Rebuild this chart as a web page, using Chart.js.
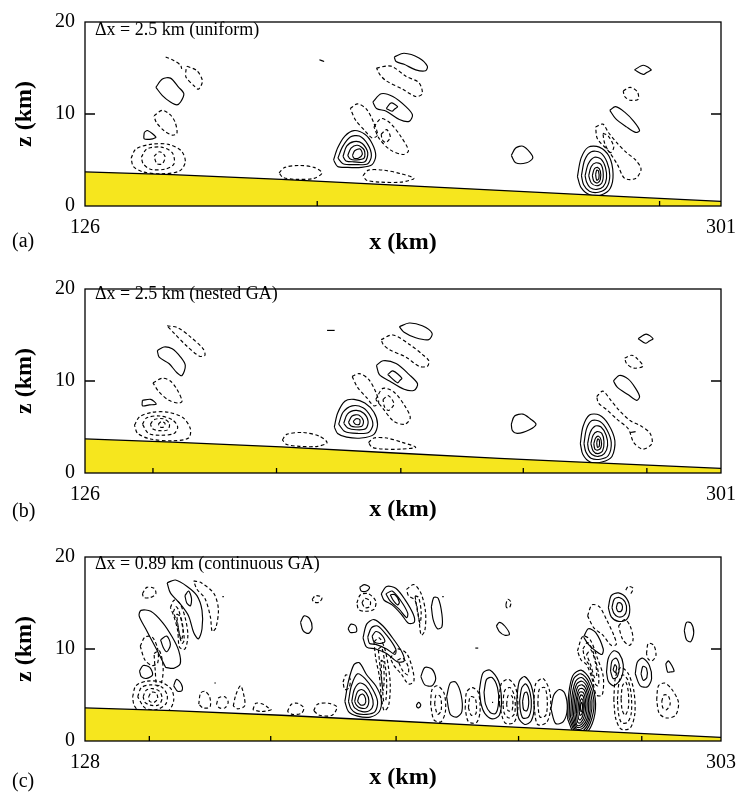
<!DOCTYPE html>
<html>
<head>
<meta charset="utf-8">
<script src="https://cdn.jsdelivr.net/npm/chart.js@4.4.1/dist/chart.umd.min.js"></script>
<style>
  body { margin: 0; background: #fff; width: 746px; height: 793px; overflow: hidden; position: relative; }
  canvas { position: absolute; left: 0; }
  .lab { position: absolute; font-family: 'Liberation Serif', 'Times New Roman', serif; color: #000; line-height: 1; white-space: nowrap; }
  .panel { font-size: 20px; left: 12px; }
  .note { font-size: 18px; left: 95px; }
</style>
</head>
<body>
<canvas id="ca" width="746" height="267" style="top:0px"></canvas>
<canvas id="cb" width="746" height="267" style="top:267px"></canvas>
<canvas id="cc" width="746" height="267" style="top:535px"></canvas>

<div class="lab panel" style="top:230px">(a)</div>
<div class="lab panel" style="top:500px">(b)</div>
<div class="lab panel" style="top:770px">(c)</div>
<div class="lab note" style="top:20px">Δx = 2.5 km (uniform)</div>
<div class="lab note" style="top:284px">Δx = 2.5 km (nested GA)</div>
<div class="lab note" style="top:554px">Δx = 0.89 km (continuous GA)</div>

<script>
// axis ranges and ticks
const zTicks = [0, 10, 20]
const innerZ = [10]
const xEndsA = [126, 301]
const xEndsB = [126, 301]
const xEndsC = [128, 303]
const innerXa = [189.9, 284.1]
const innerXb = [144.7, 178.7, 212.9, 246.6, 280.6]
const innerXc = [145.7, 179.1, 213.6, 247.3, 281.2]

// terrain profile (km)
const terrainXa = [126, 150, 180, 210, 240, 270, 301]
const terrainZa = [3.7, 3.4, 2.9, 2.3, 1.7, 1.1, 0.5]
const terrainXb = [126, 150, 180, 210, 240, 270, 301]
const terrainZb = [3.7, 3.35, 2.85, 2.2, 1.6, 1.05, 0.5]
const terrainXc = [128, 152, 182, 212, 242, 272, 303]
const terrainZc = [3.6, 3.3, 2.8, 2.2, 1.6, 1.0, 0.4]

// contours, [x km, z km]; solid = positive, dashed = negative
const aSolid = [
  [[145.5,12.9],[147.3,13.8],[149.5,13.9],[151.8,12.9],[153.2,12.2],[152.3,11.3],[151.3,11.0],[149.5,11.3],[147.3,12.0]],
  [[142.3,8.0],[143.2,8.2],[145.5,7.5],[144.6,7.3],[142.3,7.3]],
  [[190.5,15.9],[191.8,15.7]],
  [[194.4,5.0],[195.5,6.3],[197.5,7.6],[200,8.2],[203,7.8],[205,6.8],[206,5.5],[205,4.5],[202,4.2],[198,4.2],[195.5,4.3]],
  [[195.6,5.2],[196.8,6.4],[199,7.5],[201.5,7.6],[203.8,6.7],[204.8,5.5],[203.8,4.6],[200.5,4.5],[197,4.6]],
  [[197,5.4],[198,6.5],[200,7.0],[202.3,6.8],[203.8,5.8],[203,4.8],[200,4.8],[197.8,4.9]],
  [[198.3,5.5],[199.2,6.3],[201,6.6],[202.8,6.1],[202.8,5.2],[200.5,5.0],[199,5.1]],
  [[199.6,5.5],[200.2,6.0],[201.7,6.2],[202.3,5.6],[201.2,5.2],[200,5.2]],
  [[211.1,16.2],[213.8,16.6],[217.9,16.1],[220.2,15.2],[219.7,14.7],[217.0,14.8],[213.8,15.4],[211.6,15.7]],
  [[205.2,11.3],[207.5,12.2],[210.7,11.9],[214.3,10.8],[216.1,9.9],[215.2,9.2],[212.5,9.4],[208.9,10.3],[206.2,10.6]],
  [[208.9,10.6],[210.2,11.2],[212.0,10.8],[211.2,10.55],[210.5,10.3]],
  [[243.3,5.5],[244.5,6.3],[246.5,6.5],[248.5,5.8],[249.2,5.2],[247.5,4.7],[244.5,4.7]],
  [[277.2,14.8],[279.6,15.3],[281.8,14.8],[280.7,14.55],[279.6,14.3]],
  [[270.4,10.4],[272,10.8],[274.5,10.2],[277,9.2],[278.6,8.2],[277.5,8.0],[275,8.6],[272,9.5]],
  [[261.5,3.2],[262.5,5.2],[264.5,6.4],[267.5,6.4],[270.2,5.4],[271.3,3.5],[270.5,1.9],[268,1.2],[265,1.2],[262.5,2.0]],
  [[262.6,3.3],[263.5,5.0],[265.3,5.9],[267.8,5.8],[269.6,4.8],[270.4,3.3],[269.5,2.0],[267.3,1.5],[264.8,1.6],[263.2,2.3]],
  [[263.6,3.3],[264.5,4.6],[266.2,5.3],[268,5.1],[269.2,4.2],[269.5,3.0],[268.6,2.1],[266.8,1.8],[265,2.0],[264,2.6]],
  [[264.6,3.3],[265.3,4.3],[266.6,4.7],[268,4.5],[268.6,3.5],[268.2,2.5],[266.8,2.2],[265.3,2.5]],
  [[265.6,3.3],[266.1,4.0],[267,4.2],[267.8,3.8],[267.8,2.9],[267,2.5],[266,2.7]],
  [[266.5,3.4],[266.8,3.9],[267.3,3.8],[267.4,3.0],[266.8,2.8]]
]
const aDashed = [
  [[148.2,16.2],[150.5,15.8],[152.3,15.3],[152.6,14.9]],
  [[154.1,15.2],[156.8,14.7],[158.3,13.6],[157.2,12.7],[155.9,13.1],[153.8,14.0],[153.8,14.8]],
  [[145.0,9.8],[147.3,10.4],[149.5,9.9],[150.8,9.1],[151.3,7.9],[150.0,7.7],[147.7,8.2],[145.6,9.1]],
  [[138.7,5.2],[140,6.2],[144,6.7],[149,6.7],[152.5,6.0],[153.6,4.8],[152,3.8],[147,3.5],[142,3.7],[139.3,4.3]],
  [[141.5,5.3],[143,6.2],[147,6.4],[150,5.8],[150.5,4.6],[148,4.0],[144,4.0],[142,4.6]],
  [[145,5.4],[146.5,5.9],[148,5.4],[147.3,4.6],[145.8,4.6]],
  [[179.4,3.6],[181,4.2],[185,4.4],[189,4.2],[191.2,3.6],[189,3.0],[184,2.9],[180.5,3.1]],
  [[202.5,3.3],[204,3.9],[208,3.9],[213,3.5],[216.5,3.0],[213,2.6],[207,2.6],[203.5,2.8]],
  [[199,10.6],[201,11.1],[203.5,10.5],[205.5,9.0],[206.5,7.7],[205,7.4],[203,8.2],[200.5,9.3]],
  [[205.5,8.6],[207.5,9.5],[210,9.0],[213,7.5],[215,6.0],[213.5,5.6],[210,6.1],[207,7.3]],
  [[207.5,7.8],[209,8.3],[210,7.5],[208.8,6.9],[207.8,7.2]],
  [[206.2,15.0],[210.2,15.2],[214.3,14.1],[217.9,13.4],[218.8,12.2],[217.0,11.9],[213.4,12.7],[208.9,13.6],[207.1,14.3]],
  [[274.1,12.5],[276,12.9],[278,12.4],[278.2,11.6],[276,11.5],[274.5,11.9]],
  [[266.5,8.6],[268.5,8.9],[270,8.0],[272.5,6.8],[275,5.8],[277.5,5.0],[279,4.0],[277.5,3.0],[274.5,3.0],[272.5,4.5],[270,6.0],[267,7.3]],
  [[268.5,7.9],[270,7.6],[271.5,6.4],[270.5,5.8],[269,6.8]]
]

const bSolid = [
  [[145.9,13.3],[147.7,13.7],[150.0,13.5],[152.3,12.6],[153.6,11.7],[152.7,10.6],[151.3,10.9],[149.1,11.9],[146.4,12.6]],
  [[141.8,7.9],[144.1,8.0],[145.6,7.5],[143.7,7.4],[141.8,7.3]],
  [[192.6,15.5],[194.7,15.5]],
  [[194.6,5.0],[195.5,6.5],[197.5,7.8],[200,8.0],[203,7.6],[205.5,6.6],[206.5,5.3],[205.5,4.2],[202,3.8],[198,3.9],[195.5,4.3]],
  [[195.8,5.3],[197,6.6],[199.5,7.3],[202.5,7.1],[204.5,6.2],[205.2,5.2],[204,4.4],[201,4.3],[197.5,4.5]],
  [[197.2,5.4],[198.2,6.4],[200.5,6.8],[202.7,6.5],[203.9,5.6],[203.2,4.8],[200.6,4.7],[198.3,4.9]],
  [[198.5,5.5],[199.5,6.2],[201.3,6.3],[202.6,5.7],[202.2,5.1],[200.4,5.0],[199.2,5.1]],
  [[199.8,5.6],[200.6,5.9],[201.6,5.8],[201.5,5.3],[200.4,5.3]],
  [[212.5,15.9],[215.2,16.3],[218.8,16.0],[221.5,15.2],[220.6,14.5],[217.0,14.7],[213.8,15.3]],
  [[206.2,11.7],[208.0,12.2],[211.6,11.9],[215.2,10.7],[217.5,9.7],[216.6,9.0],[213.8,9.1],[209.8,10.0],[207.0,10.7]],
  [[209.3,10.7],[210.7,11.1],[213.2,10.3],[212.6,10.05],[212.0,9.8]],
  [[243.3,5.3],[244.2,6.2],[246.5,6.4],[248.5,5.9],[250.1,5.3],[248.3,4.7],[245.0,4.3],[243.6,4.6]],
  [[278.2,14.6],[280.4,15.1],[282.3,14.6],[281.3,14.35],[280.2,14.1]],
  [[271.4,10.0],[273.0,10.6],[275.5,10.2],[277.5,9.2],[278.6,8.3],[277.8,7.9],[275.5,8.5],[272.5,9.3]],
  [[276,4.4],[277.5,4.5]],
  [[262.3,3.2],[263,5.0],[264.8,6.3],[267.5,6.3],[270,5.3],[271.8,3.5],[271,1.8],[268.2,1.2],[265,1.2],[263,2.0]],
  [[263.3,3.2],[264,4.8],[265.5,5.7],[267.7,5.6],[269.6,4.7],[270.8,3.3],[270,1.9],[267.8,1.5],[265.2,1.6],[263.8,2.3]],
  [[264.3,3.2],[265,4.4],[266.4,5.1],[268,5.0],[269.4,4.1],[269.8,3.0],[268.9,2.1],[267.2,1.8],[265.5,2.0],[264.6,2.5]],
  [[265.2,3.2],[265.8,4.1],[266.9,4.5],[268.2,4.3],[268.8,3.4],[268.4,2.4],[267.1,2.1],[265.8,2.4]],
  [[266,3.2],[266.5,3.8],[267.3,4.0],[268,3.6],[268,2.8],[267.2,2.5],[266.3,2.6]],
  [[266.8,3.3],[267.1,3.7],[267.5,3.6],[267.5,2.9],[267,2.8]]
]
const bDashed = [
  [[148.6,16.0],[151.5,15.8],[155,14.8],[158.5,13.5],[159,12.8],[157.5,12.7],[154,13.8],[150.5,15.2]],
  [[144.7,9.8],[147.3,10.3],[149.5,10.0],[151.3,9.1],[152.7,7.8],[151.8,7.6],[149.1,7.9],[146.4,8.8]],
  [[139.6,5.2],[141,6.1],[144.5,6.6],[149,6.6],[153,6.0],[155,4.8],[154.5,3.8],[150,3.5],[144,3.7],[140.5,4.3]],
  [[141.8,5.3],[143,6.0],[146.5,6.2],[150,5.8],[151.5,5.0],[150.5,4.3],[147,4.1],[143.5,4.3]],
  [[144,5.3],[145,5.8],[147.5,5.9],[149.2,5.4],[148.8,4.7],[146.5,4.6],[144.6,4.8]],
  [[146.2,5.3],[147,5.6],[148,5.4],[147.6,5.0],[146.6,5.0]],
  [[180.3,3.6],[181.5,4.2],[186,4.4],[190.5,4.0],[192.6,3.3],[190,2.9],[185,2.9],[181.5,3.1]],
  [[199.5,10.5],[201.5,10.8],[204,10.2],[206,8.8],[206.8,7.6],[205.5,7.3],[203.5,8.2],[201,9.3]],
  [[206,8.0],[208,9.2],[211,8.8],[214,7.3],[215.5,6.0],[214,5.3],[211,5.6],[208,7.0]],
  [[208,8.0],[209.5,8.4],[211,7.5],[209.5,6.8],[208.4,7.2]],
  [[204,3.3],[205.5,3.8],[209,3.8],[213.5,3.3],[217,2.8],[213,2.6],[208,2.6],[205,2.8]],
  [[207.5,14.5],[210.7,15.0],[215.2,14.0],[218.8,12.9],[220.6,12.2],[220.2,11.6],[217.9,11.6],[214.3,12.6],[209.8,13.4],[208.0,14.0]],
  [[274.5,12.5],[276.5,12.8],[278,12.4],[279.5,11.6],[277,11.4],[275,11.9]],
  [[266.8,8.3],[268.5,8.9],[270.5,8.0],[273,6.8],[276,5.7],[279,5.1],[281.5,4.3],[282,3.2],[279.5,2.6],[277,3.3],[275.5,4.8],[272.5,5.8],[269.5,6.9],[267.3,7.6]]
]

const cSolid = [
  [[150.2,8.0],[147.5,10.1],[144.7,12.2],[142.9,13.6],[143.4,14.2],[146.1,14.1],[149.3,12.9],[152.0,11.3],[153.8,9.8],[154.2,8.4],[152.4,7.9]],
  [[148.8,11.0],[150.5,11.4],[151.5,10.5],[150.5,9.7],[149.5,10.2]],
  [[150.6,17.2],[152.9,17.5],[156.1,16.8],[158.8,15.8],[160.2,14.2],[160.2,12.2],[159.2,11.1],[157.9,11.8],[156.5,13.6],[154.2,14.9],[151.5,16.1]],
  [[155.5,15.8],[156.5,16.3],[157.3,15.5],[157.0,14.7],[156.0,15.0]],
  [[165.8,15.7],[166.2,15.7]],
  [[143,7.6],[144,8.2],[145.8,8.0],[146.6,7.2],[145,6.8],[143.5,7.0]],
  [[152.4,6.0],[153.2,6.7],[154.5,6.2],[154.7,5.5],[153.5,5.4]],
  [[163.6,6.3],[164.0,6.3]],
  [[187.3,12.9],[188.3,13.6],[189.8,13.3],[190.5,12.3],[189.5,11.7],[188.0,12.0]],
  [[200.4,12.2],[201.2,12.7],[202.5,12.5],[202.7,11.9],[201.0,11.8]],
  [[203.6,16.7],[204.8,17.0],[206.3,16.7],[205.5,16.3],[204.0,16.3]],
  [[199.5,4.3],[200.5,6.5],[202,8.3],[203.5,8.5],[205.5,7.2],[208,6.0],[209.5,4.6],[209,3.2],[206.5,2.6],[203,2.7],[200.5,3.2]],
  [[200.5,4.3],[201.3,6.0],[203,7.3],[205,6.8],[207.2,5.6],[208.5,4.3],[207.8,3.2],[205.5,2.9],[202.7,3.0],[201.2,3.5]],
  [[201.4,4.3],[202.1,5.6],[203.6,6.3],[205.3,6.0],[206.8,5.0],[207.3,4.0],[206.3,3.3],[204.3,3.2],[202.2,3.6]],
  [[202.2,4.3],[202.9,5.3],[204.1,5.6],[205.4,5.2],[206.1,4.4],[205.4,3.6],[203.7,3.6],[202.7,3.9]],
  [[203,4.3],[203.5,4.9],[204.4,5.1],[205.2,4.6],[205,4.0],[203.9,3.9]],
  [[209.5,16.0],[211,16.8],[213.5,16.6],[216,15.4],[218.3,13.8],[218.6,12.9],[217,12.8],[215,13.8],[212.5,14.8],[210.3,15.3]],
  [[210.8,16.0],[212.5,16.3],[214.8,15.3],[216.8,13.9],[216.5,13.4],[214.5,14.3],[212,15.2]],
  [[212,15.9],[213.3,15.9],[214.5,15.1],[214,14.8],[212.8,15.3]],
  [[223.3,14.6],[224,15.6],[225.2,15.5],[226.2,13.8],[226.2,12.4],[225,12.2],[223.8,13.2]],
  [[226.3,15.7],[226.7,15.7]],
  [[204.5,11.2],[205.5,12.7],[207.5,13.2],[210,12.5],[213,11.0],[215.3,9.6],[215.8,8.7],[214,8.6],[211,9.5],[208,10.0],[205.5,10.2]],
  [[205.8,11.3],[206.8,12.3],[208.5,12.5],[211,11.5],[213.5,10.0],[213.3,9.4],[211,10.0],[208,10.5],[206.3,10.6]],
  [[207,11.4],[208,11.9],[209.5,11.6],[210.5,10.8],[209,10.6],[207.5,10.8]],
  [[220.4,7.0],[221.5,8.0],[223.5,7.8],[224.5,6.8],[223.5,6.0],[221.5,6.1]],
  [[219.2,3.9],[219.8,4.2],[220.4,3.9],[219.8,3.6],[219.3,3.7]],
  [[227.5,4.8],[228.5,6.3],[230,6.4],[231.5,5.0],[231.7,3.2],[230.3,2.6],[228.5,2.9]],
  [[236.5,5.5],[237.5,7.4],[239.5,7.7],[241.8,6.5],[242.6,4.5],[242,2.8],[240,2.4],[238,3.0],[237,4.0]],
  [[237.8,5.3],[238.5,6.7],[240,6.9],[241.5,5.8],[241.8,4.2],[241,3.0],[239.5,3.1],[238.2,4.0]],
  [[240.0,4.2],[240.3,4.2]],
  [[246.8,4.5],[247.5,6.5],[249,7.0],[250.8,6.0],[251.6,3.8],[250.8,2.2],[249,1.8],[247.3,2.5]],
  [[247.6,4.4],[248.2,5.8],[249.3,6.2],[250.5,5.2],[250.8,3.7],[250,2.6],[248.5,2.5],[247.8,3.3]],
  [[248.4,4.3],[248.9,5.2],[249.6,5.3],[250.1,4.3],[249.6,3.3],[248.7,3.4]],
  [[256.2,3.5],[257,5.0],[258.5,5.6],[260,5.2],[260.7,3.5],[259.6,2.1],[257.5,1.9]],
  [[260.8,2.4],[261.1,5.1],[262.2,7.1],[264.5,7.7],[266.8,6.8],[268.4,4.6],[268,2.4],[265.8,0.8],[262.8,0.7]],
  [[261.2,2.5],[261.5,5.0],[262.5,6.8],[264.5,7.3],[266.5,6.5],[268,4.5],[267.5,2.5],[265.5,1.0],[263,0.9]],
  [[261.6,2.6],[262,4.9],[263,6.5],[264.6,6.9],[266.3,6.2],[267.5,4.4],[267,2.5],[265.3,1.2],[263.1,1.1]],
  [[262,2.7],[262.4,4.8],[263.3,6.2],[264.7,6.5],[266.1,5.9],[267,4.3],[266.6,2.5],[265,1.4],[263.2,1.3]],
  [[262.4,2.8],[262.8,4.7],[263.6,5.9],[264.8,6.1],[265.9,5.6],[266.6,4.2],[266.2,2.5],[264.8,1.6],[263.3,1.5]],
  [[262.8,2.9],[263.2,4.6],[263.9,5.6],[264.9,5.7],[265.7,5.3],[266.2,4.1],[265.8,2.6],[264.6,1.8],[263.4,1.7]],
  [[263.2,3.0],[263.5,4.5],[264.1,5.3],[265,5.3],[265.5,4.9],[265.8,4.0],[265.4,2.7],[264.4,2.0],[263.6,2.0]],
  [[263.6,3.1],[263.9,4.4],[264.4,5.0],[265,4.9],[265.3,4.5],[265.4,3.8],[265,2.8],[264.3,2.3],[263.8,2.4]],
  [[264,3.2],[264.2,4.2],[264.6,4.6],[265,4.4],[265.1,3.6],[264.7,2.9],[264.2,2.8]],
  [[264.3,3.3],[264.4,4.0],[264.7,4.2],[264.9,3.7],[264.6,3.2]],
  [[265.2,11.3],[266.5,12.2],[268.5,11.8],[270.6,10.0],[270.2,9.4],[268.5,9.8],[266.5,10.5]],
  [[271.5,7.5],[272,9.0],[273.5,9.8],[275,9.5],[276.1,8.3],[275.5,6.8],[273.5,6.0],[272,6.5]],
  [[272.6,7.6],[273,8.7],[274.2,9.0],[275,8.2],[274.5,7.0],[273.3,6.8]],
  [[273.3,7.7],[273.8,8.3],[274.3,8.0],[274.1,7.6],[274,7.4]],
  [[272,14.5],[272.8,15.8],[274.8,16.1],[277,15.5],[277.9,14.3],[277,13.2],[274.8,13.0],[272.8,13.5]],
  [[273,14.5],[273.6,15.4],[275,15.6],[276.6,15.1],[277,14.2],[276.2,13.6],[274.6,13.5],[273.5,13.9]],
  [[274.2,14.5],[274.6,15.0],[275.4,15.0],[275.9,14.6],[275.5,14.1],[274.6,14.1]],
  [[279.4,7.3],[280,8.6],[281.5,9.0],[283.3,8.2],[283.9,6.8],[282.8,5.9],[280.8,6.0]],
  [[281,7.3],[281.5,8.1],[282.5,7.9],[282.6,6.9],[281.6,6.6]],
  [[287.8,8.4],[288.6,8.7],[290.1,7.6],[289.0,7.5],[288.3,7.5]],
  [[292.9,12.0],[293.5,12.9],[294.8,12.8],[295.5,11.8],[294.7,10.8],[293.5,11.0]],
  [[241.2,12.5],[242,12.9],[243.5,12.5],[244.8,11.6],[243.5,11.5],[242,11.9]],
  [[235.4,10.1],[236.2,10.1]]
]
const cDashed = [
  [[143.8,16.0],[145,16.7],[147,16.6],[147.5,16.0],[146,15.6],[144.2,15.6]],
  [[151.5,14.5],[152.5,15.3],[154,15.0],[155.5,13.5],[156.3,11.5],[155.5,10.0],[154,10.2],[153.5,12.0],[152.5,13.5]],
  [[152.3,14.0],[153,14.6],[153.8,14.2],[154.8,12.5],[155.3,11],[154.7,10.6],[154,11.5],[153.4,12.8]],
  [[153.2,13.8],[154.3,13.5],[155,12],[154.5,11],[153.8,12]],
  [[157.9,17.4],[160,17.2],[163.5,16.0],[164.7,14.3],[164,12.3],[163,11.9],[162.5,13.5],[161,15.5],[158.8,16.5]],
  [[143.2,10.3],[144.5,11.3],[146.5,11.3],[148,10.0],[148,8.5],[146.5,8.2],[144.5,8.8]],
  [[141.1,4.8],[142,6.0],[145,6.5],[149,6.4],[151.8,5.6],[152.4,4.4],[151,3.3],[147,2.9],[143,3.2],[141.5,3.9]],
  [[142.5,4.8],[143.5,5.8],[146,6.1],[149,5.9],[150.6,5.0],[150.2,4.0],[147.5,3.4],[144.5,3.6]],
  [[144,4.8],[144.8,5.5],[146.5,5.7],[148.5,5.4],[149.2,4.6],[148.2,3.9],[146,3.9],[144.5,4.2]],
  [[145.5,4.8],[146.3,5.3],[147.6,5.2],[148,4.6],[147,4.2],[145.8,4.3]],
  [[147,9.5],[148.5,9.8],[149.5,8],[149,6.3],[147.8,6.0],[147.3,7.8]],
  [[159.3,4.0],[159.8,5.2],[161,5.4],[162.3,4.8],[162.4,3.7],[160.5,3.6]],
  [[164.2,4.0],[164.8,4.7],[166.5,4.8],[167.4,4.2],[166.5,3.6],[165,3.6]],
  [[168.8,3.8],[169.5,5.0],[170.8,6.0],[171.8,4.8],[171.9,3.8],[170,3.5]],
  [[174.2,3.4],[175,4.1],[177,4.0],[178.5,3.6],[179.2,3.4],[176.5,3.2]],
  [[183.7,3.2],[184.8,4.0],[186.5,4.1],[188.2,3.6],[187.5,3.0],[185,2.9]],
  [[190.9,3.3],[192,4.0],[195,4.1],[197.3,3.7],[196,2.8],[192.5,2.8]],
  [[190.5,15.4],[191.5,15.8],[193.2,15.6],[192.5,15.1],[191,15.1]],
  [[199.0,6.4],[199.8,7.2],[200.9,6.8],[200.7,5.8],[199.5,5.6]],
  [[207.5,10.8],[209,11.2],[210.5,10.0],[211.5,8.0],[212,6.0],[211.5,3.8],[210.3,3.3],[209.5,5.0],[209,7.0],[208,9.0]],
  [[208.7,10.0],[209.6,10.2],[210.5,8.5],[211,6.5],[210.8,4.5],[210.2,4.3],[209.8,6.0],[209.2,8.0]],
  [[209.5,8.8],[210.1,8.6],[210.3,6.5],[210,5.5],[209.6,6.8]],
  [[202.8,15.0],[203.8,15.9],[206,16.0],[208,15.2],[207.5,14.3],[205,14.1],[203.3,14.3]],
  [[204.2,15.0],[205,15.5],[206.5,15.2],[206.3,14.6],[205,14.5]],
  [[216.5,16.5],[218.5,17.0],[220.5,16.0],[221.7,14.0],[221.5,12.0],[220.5,11.5],[219.8,13.5],[218.8,15.3],[217,15.8]],
  [[218.8,15.8],[219.8,15.6],[220.5,14],[220.2,12.8],[219.6,13.8]],
  [[212,9.0],[214,10.0],[216.5,9.5],[218,8.0],[218.5,6.5],[217,6.2],[215,7.3],[213,8.2]],
  [[214,8.8],[215.5,9.0],[217,8.0],[216.8,7.2],[215.5,7.6]],
  [[223.1,4.0],[223.5,5.6],[225,6.0],[226.8,5.2],[227.2,3.3],[226,2.1],[224,2.3]],
  [[224.2,4],[224.6,5],[225.8,4.8],[226,3.3],[225,2.9]],
  [[232.6,3.5],[233,5.3],[234.5,5.8],[236.2,5.3],[236.7,3.2],[235.7,2.0],[233.5,2.1]],
  [[233.5,3.6],[234,4.8],[235.4,4.6],[235.6,3.0],[234.3,2.8]],
  [[242,4.0],[242.5,6.2],[244.5,6.7],[246.5,5.8],[247.1,3.5],[246,2.0],[243.5,2.0]],
  [[243,4.0],[243.5,5.5],[245,5.8],[246.2,4.8],[246.2,3.0],[244.7,2.5],[243.4,3.0]],
  [[244,4.0],[244.5,5.0],[245.6,4.8],[245.5,3.3],[244.4,3.3]],
  [[251.5,4.0],[252,6.2],[254,6.8],[255.8,5.5],[256.1,3.5],[255,2.0],[252.5,1.8]],
  [[252.6,4],[253,5.6],[254.5,5.8],[255.2,4.4],[254.8,2.8],[253.2,2.6]],
  [[263.5,9.8],[265,11.4],[267,11.0],[269,9.0],[270.6,7.0],[270.3,5.0],[268.7,5.0],[267.5,6.8],[266,8.3],[264.5,8.8]],
  [[265,10.0],[266.3,10.7],[267.8,9.7],[269.3,7.3],[269.2,6.0],[268.2,6.3],[266.8,8.2],[265.5,9.0]],
  [[266,9.4],[267.2,9.9],[268.4,8.6],[268.8,7],[268.2,6.9],[267.2,8.2]],
  [[266.3,13.6],[267.5,14.8],[269.5,14.6],[271.5,13.2],[273.5,11.5],[274.2,10.5],[272.8,10.4],[270.5,11.5],[268,12.3]],
  [[274.8,12.5],[276.5,13.2],[278,12.5],[278.8,11.0],[277.8,10.4],[276,11]],
  [[276.8,16.4],[277.5,16.8],[278.8,16.6],[278.2,16.0]],
  [[273.5,4.5],[274,7.0],[275.5,8.0],[277.5,7.3],[279,5.5],[279.3,3.0],[278,1.4],[275.5,1.3],[274,2.5]],
  [[274.5,4.5],[275,6.5],[276,7.2],[277.4,6.6],[278.3,5.0],[278.3,3.0],[277.2,2.0],[275.6,2.0],[274.8,3.0]],
  [[275.5,4.6],[275.9,6.0],[276.8,6.4],[277.5,5.3],[277.5,3.6],[276.6,2.8],[275.8,3.4]],
  [[282.5,9.5],[283,10.6],[284.5,10.4],[285.1,9.3],[284,8.7],[283,8.9]],
  [[285.3,4.5],[285.8,6.0],[287.5,6.3],[289.5,5.6],[291.3,4.2],[290.5,2.8],[288,2.5],[286,3.0]],
  [[286.7,4.3],[287.3,5.0],[288.5,4.9],[289,4.0],[288,3.4],[287,3.6]],
  [[243.8,14.8],[244.3,15.4],[245.2,15.1],[244.8,14.5],[244.0,14.5]]
]

const FONT = "'Liberation Serif', 'Times New Roman', serif"
const YELLOW = "#F6E61E"

// closed loops have 5+ points, short pieces stay open
function toPoints(c) {
  const pts = c.map(([x, z]) => ({ x: x, y: z }))
  if (c.length >= 5) pts.push({ x: c[0][0], y: c[0][1] })
  return pts
}

function contourSets(list, dashed) {
  return list.map(c => ({
    data: toPoints(c),
    showLine: true,
    borderColor: "#000",
    borderWidth: 1.15,
    borderDash: dashed ? [3.5, 2.5] : [],
    pointRadius: 0,
    tension: 0.3,
    fill: false
  }))
}

const framePlugin = {
  id: "frame",
  afterDatasetsDraw(chart, args, opts) {
    const { ctx, chartArea, scales } = chart
    const { left, top, right, bottom } = chartArea
    ctx.save()
    ctx.strokeStyle = "#000"
    ctx.lineWidth = 1.3
    ctx.strokeRect(left, top, right - left, bottom - top)
    ctx.beginPath()
    opts.innerX.forEach(v => {
      const px = scales.x.getPixelForValue(v)
      ctx.moveTo(px, bottom)
      ctx.lineTo(px, bottom - 5)
    })
    innerZ.forEach(v => {
      const py = scales.y.getPixelForValue(v)
      ctx.moveTo(left, py)
      ctx.lineTo(left + 10, py)
      ctx.moveTo(right, py)
      ctx.lineTo(right - 10, py)
    })
    ctx.stroke()
    ctx.restore()
  }
}

function makePanel(id, solid, dashed, tx, tz, xEnds, innerX) {
  const terrain = {
    data: tx.map((x, i) => ({ x: x, y: tz[i] })),
    showLine: true,
    borderColor: "#000",
    borderWidth: 1.3,
    backgroundColor: YELLOW,
    fill: "origin",
    pointRadius: 0,
    tension: 0
  }
  new Chart(document.getElementById(id).getContext("2d"), {
    type: "scatter",
    data: { datasets: [terrain, ...contourSets(solid, false), ...contourSets(dashed, true)] },
    options: {
      responsive: false,
      animation: false,
      events: [],
      layout: { padding: { top: 14, right: 17, left: 0, bottom: 0 } },
      plugins: { legend: { display: false }, tooltip: { enabled: false }, frame: { innerX: innerX } },
      scales: {
        x: {
          type: "linear",
          min: xEnds[0],
          max: xEnds[1],
          grid: { display: false, drawTicks: false },
          border: { display: false },
          afterBuildTicks: ax => { ax.ticks = xEnds.map(v => ({ value: v })) },
          afterFit: ax => { ax.height = 61 },
          ticks: { font: { family: FONT, size: 20 }, color: "#000", padding: 10, maxRotation: 0, autoSkip: false },
          title: { display: true, text: "x (km)", color: "#000", font: { family: FONT, size: 24, weight: "bold" }, padding: { top: 0, bottom: 10 } }
        },
        y: {
          type: "linear",
          min: 0,
          max: 20,
          grid: { display: false, drawTicks: false },
          border: { display: false },
          afterBuildTicks: ax => { ax.ticks = zTicks.map(v => ({ value: v })) },
          afterFit: ax => { ax.width = 85 },
          ticks: { font: { family: FONT, size: 20 }, color: "#000", padding: 10 },
          title: { display: true, text: "z (km)", color: "#000", font: { family: FONT, size: 24, weight: "bold" }, padding: { top: 10, bottom: 0 } }
        }
      }
    },
    plugins: [framePlugin]
  })
}

makePanel("ca", aSolid, aDashed, terrainXa, terrainZa, xEndsA, innerXa)
makePanel("cb", bSolid, bDashed, terrainXb, terrainZb, xEndsB, innerXb)
makePanel("cc", cSolid, cDashed, terrainXc, terrainZc, xEndsC, innerXc)
</script>
</body>
</html>
